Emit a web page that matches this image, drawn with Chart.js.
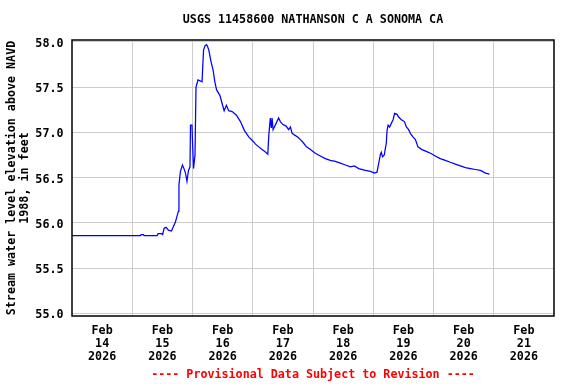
<!DOCTYPE html>
<html>
<head>
<meta charset="utf-8">
<script src="https://cdn.jsdelivr.net/npm/chart.js@4"></script>
<style>
  html, body { margin: 0; padding: 0; background: #ffffff; }
  #wrap { width: 576px; height: 384px; }
</style>
</head>
<body>
<div id="wrap"><canvas id="c" width="576" height="384"></canvas></div>
<script>
// Hours since Feb 14 2026 00:00
const hours = [0, 27.3, 27.5, 28.5, 28.7, 33.9, 34.3, 35.7, 36.1, 36.7, 37.5, 38.4, 39.6, 40.4, 41.2, 41.9, 42.4, 42.6, 43.2, 44.0,
  44.6, 45.2, 45.8, 46.4, 47.0, 47.2, 47.8, 48.0, 48.4, 49.0, 49.4, 50.2, 51.8, 52.4, 53.0, 53.6, 54.0, 54.5, 55.4, 56.2,
  56.9, 57.6, 58.9, 59.8, 60.6, 61.5, 62.4, 63.8, 65.5, 67.1, 68.7, 70.4, 72.2, 73.1, 74.4, 75.7, 76.8, 78.0, 78.4, 79.0,
  79.4, 79.7, 80.1, 80.6, 81.3, 82.3, 83.0, 83.9, 85.3, 86.3, 87.0, 87.7, 88.7, 89.9, 91.0, 92.3, 93.4, 95.0, 96.9, 98.9,
  100.9, 102.9, 104.9, 106.9, 108.9, 110.9, 112.5, 114.2, 116.9, 118.9, 120.5, 121.5, 121.9, 122.4, 122.8, 123.2, 123.7, 124.4, 124.8, 125.2,
  125.5, 125.9, 126.5, 127.2, 127.9, 128.5, 129.5, 130.1, 131.2, 132.4, 133.2, 134.1, 134.8, 135.8, 136.8, 137.8, 139.4, 141.1, 142.8, 144.7,
  146.7, 148.7, 150.7, 152.7, 154.7, 156.7, 158.7, 160.7, 162.7, 164.7, 166.3];
// Stream water level, feet above NAVD 1988
const levels = [55.86, 55.86, 55.87, 55.87, 55.86, 55.86, 55.88, 55.88, 55.87, 55.94, 55.95, 55.92, 55.91, 55.96, 56.01, 56.08, 56.13, 56.42, 56.57, 56.64,
  56.60, 56.55, 56.46, 56.58, 56.62, 57.08, 57.08, 56.90, 56.60, 56.75, 57.50, 57.58, 57.56, 57.91, 57.96, 57.97, 57.95, 57.91, 57.78, 57.69,
  57.56, 57.47, 57.41, 57.32, 57.24, 57.30, 57.24, 57.23, 57.19, 57.12, 57.02, 56.95, 56.90, 56.87, 56.84, 56.81, 56.79, 56.76, 56.97, 57.16,
  57.05, 57.16, 57.03, 57.06, 57.10, 57.16, 57.12, 57.09, 57.07, 57.03, 57.06, 56.99, 56.97, 56.95, 56.92, 56.88, 56.84, 56.81, 56.77, 56.74,
  56.71, 56.69, 56.68, 56.66, 56.64, 56.62, 56.63, 56.60, 56.58, 56.57, 56.55, 56.56, 56.62, 56.69, 56.75, 56.78, 56.73, 56.75, 56.82, 56.88,
  57.02, 57.08, 57.06, 57.10, 57.14, 57.21, 57.20, 57.17, 57.14, 57.12, 57.06, 57.03, 56.99, 56.95, 56.92, 56.84, 56.81, 56.79, 56.77, 56.74,
  56.71, 56.69, 56.67, 56.65, 56.63, 56.61, 56.60, 56.59, 56.58, 56.55, 56.54];

const dayLabels = ['14', '15', '16', '17', '18', '19', '20', '21'];
const monthLabel = 'Feb';
const yearLabel = '2026';
const yTicks = [55.0, 55.5, 56.0, 56.5, 57.0, 57.5, 58.0];
const titleText = 'USGS 11458600 NATHANSON C A SONOMA CA';
const footerText = '---- Provisional Data Subject to Revision ----';
const yTitle = ['Stream water level elevation above NAVD', '1988, in feet'];

const FONT = { family: '"DejaVu Sans Mono", "Liberation Mono", monospace', weight: 'bold', size: 11.7, lineHeight: '13px' };

const points = hours.map((h, i) => ({ x: h, y: levels[i] }));

const borderPlugin = {
  id: 'areaBorder',
  afterDraw(chart) {
    const { ctx, chartArea: a } = chart;
    ctx.save();
    ctx.strokeStyle = '#000000';
    ctx.lineWidth = 1.5;
    ctx.strokeRect(a.left, a.top, a.right - a.left, a.bottom - a.top);
    ctx.restore();
  }
};

new Chart(document.getElementById('c'), {
  type: 'line',
  data: {
    datasets: [{
      data: points,
      borderColor: '#0000ff',
      borderWidth: 1.25,
      pointRadius: 0,
      tension: 0,
      fill: false
    }]
  },
  options: {
    responsive: false,
    animation: false,
    events: [],
    layout: { padding: { left: 0, right: 22, top: 0, bottom: 0 } },
    plugins: {
      legend: { display: false },
      tooltip: { enabled: false },
      title: {
        display: true,
        text: titleText,
        fullSize: false,
        color: '#000000',
        font: FONT,
        padding: { top: 13, bottom: 14 }
      },
      subtitle: {
        display: true,
        text: footerText,
        position: 'bottom',
        fullSize: false,
        color: '#ff0000',
        font: FONT,
        padding: { top: 4, bottom: 2.5 }
      }
    },
    scales: {
      x: {
        type: 'linear',
        min: 0,
        max: 192,
        afterBuildTicks(scale) {
          const t = [];
          for (let v = 0; v <= 192; v += 12) t.push({ value: v });
          scale.ticks = t;
        },
        afterFit(scale) { scale.height = 48.5; },
        border: { display: false },
        grid: {
          drawTicks: false,
          lineWidth: 1,
          color(ctx) {
            const v = ctx.tick ? ctx.tick.value : 0;
            return (v % 24 === 0 && v > 0 && v < 192) ? '#cccccc' : 'rgba(0,0,0,0)';
          }
        },
        ticks: {
          autoSkip: false,
          maxRotation: 0,
          minRotation: 0,
          padding: 8,
          color: '#000000',
          font: FONT,
          callback(value) {
            if (value % 24 === 12) {
              const d = Math.floor(value / 24);
              return [monthLabel, dayLabels[d], yearLabel];
            }
            return '';
          }
        }
      },
      y: {
        type: 'linear',
        min: 54.97,
        max: 58.022,
        afterBuildTicks(scale) { scale.ticks = yTicks.map(v => ({ value: v })); },
        afterFit(scale) { scale.width = 72; },
        border: { display: false },
        grid: { drawTicks: false, color: '#cccccc', lineWidth: 1 },
        ticks: {
          padding: 8.5,
          labelOffset: 2,
          color: '#000000',
          font: FONT,
          callback(value) { return Number(value).toFixed(1); }
        },
        title: {
          display: true,
          text: yTitle,
          color: '#000000',
          font: FONT,
          padding: { top: 5.5, bottom: 0 }
        }
      }
    }
  },
  plugins: [borderPlugin]
});
</script>
</body>
</html>
